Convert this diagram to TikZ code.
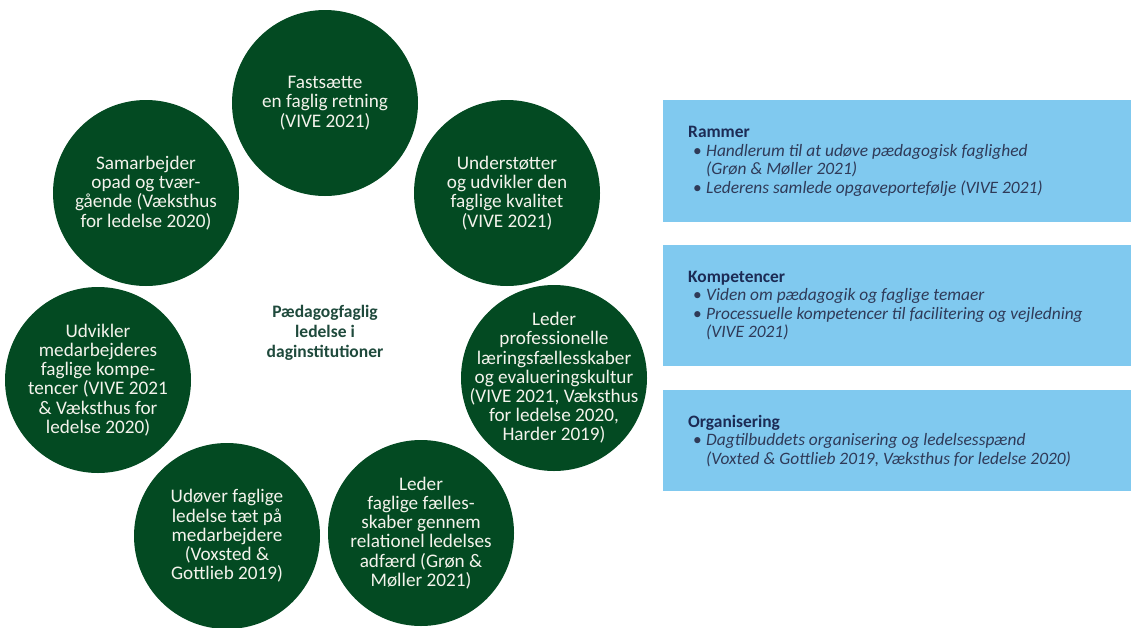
\documentclass[tikz,border=0pt]{standalone}
\usepackage{fontspec}
\setmainfont{Carlito}
\definecolor{cgreen}{HTML}{034A22}
\definecolor{boxblue}{HTML}{80C9EF}
\definecolor{navy}{HTML}{1C2B55}
\definecolor{itgray}{HTML}{2F3A58}
\definecolor{ctext}{HTML}{1F4A3C}
\definecolor{ctextw}{HTML}{F4F3EC}
\newcommand{\btitle}[1]{\hspace*{21pt}\textcolor{navy}{\textbf{#1}}}
\newcommand{\bfirst}[1]{\hspace*{26pt}\makebox[13pt][l]{\textbullet}\textit{#1}}
\newcommand{\bcont}[1]{\hspace*{39pt}\textit{#1}}
\begin{document}
\begin{tikzpicture}[x=1pt,y=-1pt,
  circ/.style={circle,fill=cgreen,minimum size=186pt,inner sep=0pt},
  ctxt/.style={align=center,inner sep=0pt,text=ctextw,font=\fontsize{19.2}{19.2}\selectfont},
  infobox/.style={fill=boxblue,anchor=north west,minimum width=468pt,inner sep=0pt,text=itgray,font=\fontsize{17.4}{18.5}\selectfont}]
\fill[white] (0,0) rectangle (1132,627);
\useasboundingbox (0,0) rectangle (1132,627);

\node[circ] (c1) at (325,103) {};
\node[circ] (c2) at (507,193) {};
\node[circ] (c3) at (554,378) {};
\node[circ] (c4) at (421,533) {};
\node[circ] (c5) at (227,536) {};
\node[circ] (c6) at (98,380) {};
\node[circ] (c7) at (146,193) {};

\node[ctxt] (t1) at (c1) {Fastsætte\\en faglig retning\\(VIVE 2021)};
\node[ctxt] (t2) at (c2) {Understøtter\\og udvikler den\\faglige kvalitet\\(VIVE 2021)};
\node[ctxt] (t3) at (c3) {Leder\\professionelle\\læringsfællesskaber\\og evalueringskultur\\(VIVE 2021, Væksthus\\for ledelse 2020,\\Harder 2019)};
\node[ctxt] (t4) at (c4) {Leder\\faglige fælles-\\skaber gennem\\relationel ledelses\\adfærd (Grøn \&\\Møller 2021)};
\node[ctxt] (t5) at (c5) {Udøver faglige\\ledelse tæt på\\medarbejdere\\(Voxsted \&\\Gottlieb 2019)};
\node[ctxt] (t6) at (c6) {Udvikler\\medarbejderes\\faglige kompe-\\tencer (VIVE 2021\\\& Væksthus for\\ledelse 2020)};
\node[ctxt] (t7) at (c7) {Samarbejder\\opad og tvær-\\gående (Væksthus\\for ledelse 2020)};

\node[align=center,text=ctext,font=\bfseries\fontsize{17.5}{20}\selectfont] (ctr) at (325,333) {Pædagogfaglig\\ledelse i\\daginstitutioner};

\node[infobox,minimum height=122pt] (b1) at (663,100) {\begin{minipage}{460pt}\setlength{\parindent}{0pt}%
\btitle{Rammer}\\
\bfirst{Handlerum til at udøve pædagogisk faglighed}\\
\bcont{(Grøn \& Møller 2021)}\\
\bfirst{Lederens samlede opgaveportefølje (VIVE 2021)}\end{minipage}};
\node[infobox,minimum height=121pt] (b2) at (663,245) {\begin{minipage}{460pt}\setlength{\parindent}{0pt}%
\btitle{Kompetencer}\\
\bfirst{Viden om pædagogik og faglige temaer}\\
\bfirst{Processuelle kompetencer til facilitering og vejledning}\\
\bcont{(VIVE 2021)}\end{minipage}};
\node[infobox,minimum height=101pt] (b3) at (663,390) {\begin{minipage}{460pt}\setlength{\parindent}{0pt}%
\btitle{Organisering}\\
\bfirst{Dagtilbuddets organisering og ledelsesspænd}\\
\bcont{(Voxted \& Gottlieb 2019, Væksthus for ledelse 2020)}\end{minipage}};
\end{tikzpicture}
\end{document}
